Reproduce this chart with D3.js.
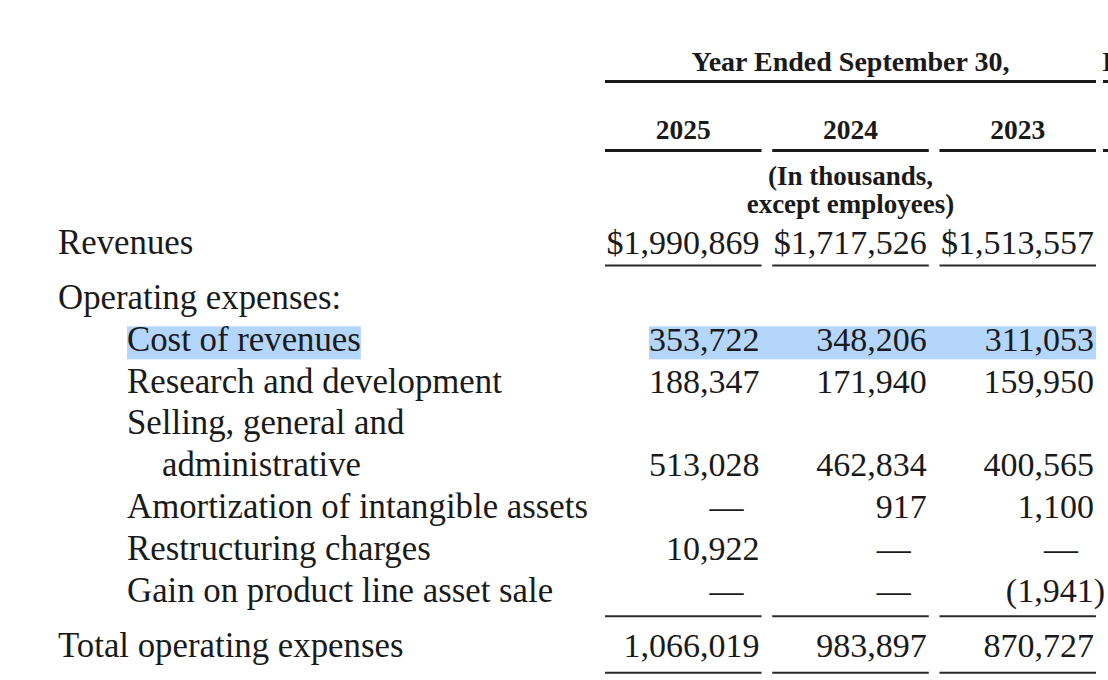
<!DOCTYPE html>
<html>
<head>
<meta charset="utf-8">
<script src="https://cdn.jsdelivr.net/npm/d3@7"></script>
<style>
  html, body { margin: 0; padding: 0; background: #fff; }
  svg { display: block; }
  text { font-family: "Liberation Serif", "Times New Roman", serif; fill: #1a1a1a; }
</style>
</head>
<body>
<div class="statement"></div>
<script>
// table data
var years = ["2025", "2024", "2023"];
var headerTitle = "Year Ended September 30,";
var unitNote = ["(In thousands,", "except employees)"];
var rowLabels = [
  ["Revenues"],
  ["Operating expenses:"],
  ["Cost of revenues"],
  ["Research and development"],
  ["Selling, general and", "administrative"],
  ["Amortization of intangible assets"],
  ["Restructuring charges"],
  ["Gain on product line asset sale"],
  ["Total operating expenses"]
];
var rowLevels = [0, 0, 1, 1, 1, 1, 1, 1, 0];
// null = no value, 0 = dash
var values2025 = [1990869, null, 353722, 188347, 513028, 0, 10922, 0, 1066019];
var values2024 = [1717526, null, 348206, 171940, 462834, 917, 0, 0, 983897];
var values2023 = [1513557, null, 311053, 159950, 400565, 1100, 0, -1941, 870727];

var seriesByYear = { "2025": values2025, "2024": values2024, "2023": values2023 };

var width = 1108, height = 680;
var fontSize = 34, labelSize = 34.8, headSize = 27.5;
var lineH = 41.8;

const svg = d3
  .select(".statement")
  .append("svg")
  .attr("width", width)
  .attr("height", height);

//columns
var x = d3.scaleBand().domain(years).range([605, 1096]).paddingInner(0.064);
var indent = d3.scaleOrdinal().domain([0, 1, 2]).range([58, 127, 162]);

//row line index -> baseline; extra gap after revenues and before total
var lineIdx = [];
var cur = 0;
rowLabels.forEach(function (lab, i) {
  if (i == 1 || i == rowLabels.length - 1) cur += 0.33;
  lineIdx.push(cur);
  cur += lab.length;
});
var y = d3.scaleLinear().domain([0, 1]).range([253.5, 253.5 + lineH]);

var fmt = d3.format(",");
function cellText(v, i) {
  if (v == null) return "";
  if (v === 0) return "\u2014";
  if (v < 0) return "(" + fmt(-v) + ")";
  return (i == 0 ? "$" : "") + fmt(v);
}

//highlighted row (selection)
var hlRow = 2;
var hl = svg.append("g").attr("class", "highlight");

//header
var colMid = (x("2025") + x("2023") + x.bandwidth()) / 2;
svg.append("text")
  .attr("x", colMid).attr("y", 70.5)
  .attr("text-anchor", "middle")
  .style("font-size", "28px").style("font-weight", "bold")
  .text(headerTitle);

svg.append("line")
  .attr("x1", x("2025")).attr("x2", x("2023") + x.bandwidth())
  .attr("y1", 81.5).attr("y2", 81.5)
  .attr("stroke", "#1a1a1a").attr("stroke-width", 3);

// clipped bits of the next column at right edge
svg.append("text")
  .attr("x", 1102).attr("y", 70.5)
  .style("font-size", "28px").style("font-weight", "bold")
  .text("I");
[81.5, 150.5].forEach(function (yy) {
  svg.append("line")
    .attr("x1", 1103).attr("x2", 1120)
    .attr("y1", yy).attr("y2", yy)
    .attr("stroke", "#1a1a1a").attr("stroke-width", 3);
});

svg.selectAll(".yr")
  .data(years)
  .enter()
  .append("text")
  .attr("class", "yr")
  .attr("x", (d) => x(d) + x.bandwidth() / 2)
  .attr("y", 139)
  .attr("text-anchor", "middle")
  .style("font-size", headSize + "px").style("font-weight", "bold")
  .text((d) => d);

svg.selectAll(".yrline")
  .data(years)
  .enter()
  .append("line")
  .attr("x1", (d) => x(d)).attr("x2", (d) => x(d) + x.bandwidth())
  .attr("y1", 150.5).attr("y2", 150.5)
  .attr("stroke", "#1a1a1a").attr("stroke-width", 3);

svg.selectAll(".unit")
  .data(unitNote)
  .enter()
  .append("text")
  .attr("x", x("2024") + x.bandwidth() / 2)
  .attr("y", (d, i) => 185 + i * 27.5)
  .attr("text-anchor", "middle")
  .style("font-size", "27px").style("font-weight", "bold")
  .text((d) => d);

//row labels
rowLabels.forEach(function (lab, i) {
  lab.forEach(function (part, j) {
    var lvl = rowLevels[i] + (j > 0 ? 1 : 0);
    svg.append("text")
      .attr("class", "lbl lbl-" + i)
      .attr("x", indent(lvl))
      .attr("y", y(lineIdx[i] + j))
      .style("font-size", labelSize + "px")
      .text(part);
  });
});

//values, right aligned in each column; bracket hangs outside
years.forEach(function (yr) {
  var vals = seriesByYear[yr];
  vals.forEach(function (v, i) {
    var t = cellText(v, i);
    if (t == "") return;
    var lastLine = lineIdx[i] + rowLabels[i].length - 1;
    var right = x(yr) + x.bandwidth() - 2;
    var el = svg.append("text")
      .attr("class", "val val-" + i)
      .attr("y", y(lastLine))
      .style("font-size", fontSize + "px");
    if (v === 0) {
      el.attr("x", right - 33).attr("text-anchor", "middle").text(t);
    } else if (v < 0) {
      el.attr("x", right + 11).attr("text-anchor", "end").text(t);
    } else {
      el.attr("x", right).attr("text-anchor", "end").text(t);
    }
  });
});

//rules under revenues, above total, under total
var ruleRows = [
  { y: y(0) + 12 },
  { y: y(lineIdx[8]) - 41 },
  { y: y(lineIdx[8]) + 15.5 }
];
ruleRows.forEach(function (r) {
  svg.selectAll(null)
    .data(years)
    .enter()
    .append("line")
    .attr("x1", (d) => x(d)).attr("x2", (d) => x(d) + x.bandwidth())
    .attr("y1", r.y).attr("y2", r.y)
    .attr("stroke", "#2a2a2a").attr("stroke-width", 2);
});

//selection highlight behind cost of revenues
var lb = svg.select(".lbl-" + hlRow).node().getBBox();
var vb = svg.selectAll(".val-" + hlRow).nodes().map((n) => n.getBBox());
var hy = y(lineIdx[hlRow]) - 24.5, hh = 33;
hl.append("rect")
  .attr("x", lb.x).attr("y", hy)
  .attr("width", lb.width).attr("height", hh)
  .attr("fill", "#b4d6fd");
hl.append("rect")
  .attr("x", d3.min(vb, (b) => b.x)).attr("y", hy)
  .attr("width", x("2023") + x.bandwidth() - d3.min(vb, (b) => b.x))
  .attr("height", hh)
  .attr("fill", "#b4d6fd");
</script>
</body>
</html>
